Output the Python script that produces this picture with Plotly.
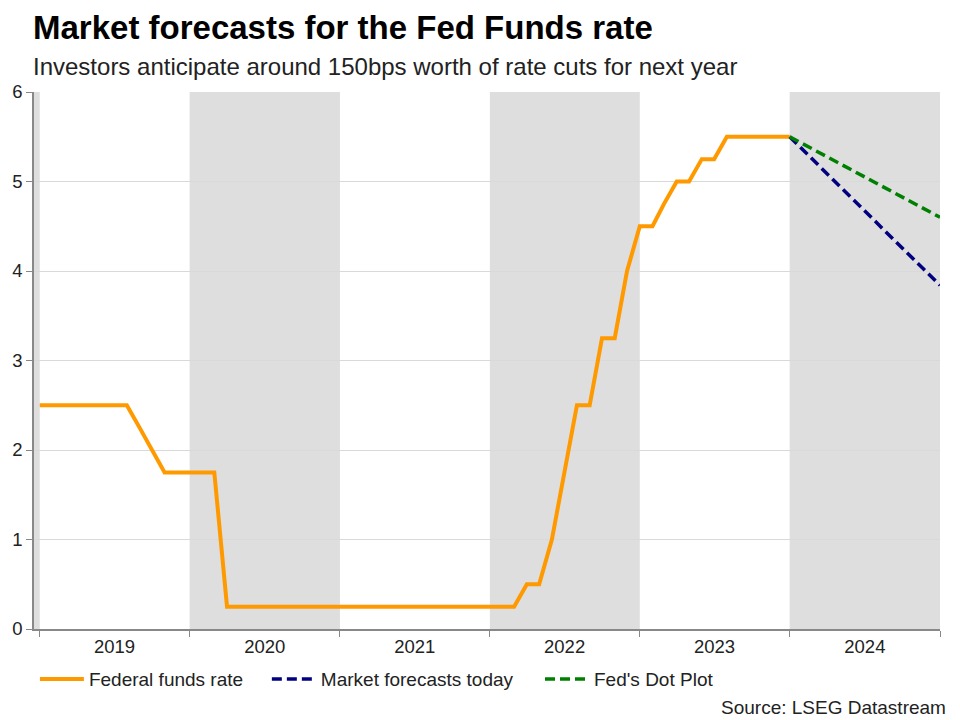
import plotly.graph_objects as go

# Monthly Fed funds rate (upper bound), first of month
fed_dates = [f"{y}-{m:02d}-01" for y in range(2019, 2024) for m in range(1, 13)] + ["2024-01-01"]
fed_values = [
    # 2019
    2.5, 2.5, 2.5, 2.5, 2.5, 2.5, 2.5, 2.5, 2.25, 2.0, 1.75, 1.75,
    # 2020
    1.75, 1.75, 1.75, 0.25, 0.25, 0.25, 0.25, 0.25, 0.25, 0.25, 0.25, 0.25,
    # 2021
    0.25, 0.25, 0.25, 0.25, 0.25, 0.25, 0.25, 0.25, 0.25, 0.25, 0.25, 0.25,
    # 2022
    0.25, 0.25, 0.25, 0.5, 0.5, 1.0, 1.75, 2.5, 2.5, 3.25, 3.25, 4.0,
    # 2023
    4.5, 4.5, 4.75, 5.0, 5.0, 5.25, 5.25, 5.5, 5.5, 5.5, 5.5, 5.5,
    # 2024
    5.5,
]

forecast_dates = ["2024-01-01", "2025-01-01"]
market_values = [5.5, 3.84]
dotplot_values = [5.5, 4.6]

year_labels = ["2019", "2020", "2021", "2022", "2023", "2024"]
label_dates = [f"{y}-07-02" for y in year_labels]
shaded_periods = [("2018-01-01", "2019-01-01"), ("2020-01-01", "2021-01-01"),
                  ("2022-01-01", "2023-01-01"), ("2024-01-01", "2025-01-01")]

fig = go.Figure()
fig.add_trace(go.Scatter(x=fed_dates, y=fed_values, mode="lines", name="Federal funds rate",
                         line=dict(color="#ff9900", width=4), legend="legend"))
fig.add_trace(go.Scatter(x=forecast_dates, y=market_values, mode="lines", name="Market forecasts today",
                         line=dict(color="#000080", width=3.5, dash="10px,5px"), legend="legend2"))
fig.add_trace(go.Scatter(x=forecast_dates, y=dotplot_values, mode="lines", name="Fed's Dot Plot",
                         line=dict(color="#008000", width=3.5, dash="10px,5px"), legend="legend3"))

for x0, x1 in shaded_periods:
    fig.add_shape(type="rect", xref="x", yref="paper", x0=x0, x1=x1, y0=0, y1=1,
                  fillcolor="#dedede", line=dict(width=0), layer="below")

legend_common = dict(orientation="h", xanchor="left", y=-0.058, yanchor="top", itemwidth=44,
                     font=dict(size=19, color="#222222"), bgcolor="rgba(0,0,0,0)")

fig.update_layout(
    width=960, height=720,
    margin=dict(l=26, r=28, t=84, b=99, autoexpand=False),
    paper_bgcolor="white", plot_bgcolor="white",
    font=dict(family="Liberation Sans, Arial, sans-serif", size=18, color="#222222"),
    showlegend=True,
    legend=dict(x=0.001, **legend_common),
    legend2=dict(x=0.257, **legend_common),
    legend3=dict(x=0.5585, **legend_common),
    annotations=[
        dict(text="<b>Market forecasts for the Fed Funds rate</b>", xref="paper", yref="paper",
             x=-0.003, y=1.121, xanchor="left", yanchor="middle", showarrow=False,
             font=dict(size=33, color="#000000")),
        dict(text="Investors anticipate around 150bps worth of rate cuts for next year", xref="paper",
             yref="paper", x=-0.003, y=1.047, xanchor="left", yanchor="middle", showarrow=False,
             font=dict(size=24, color="#222222")),
        dict(text="Source: LSEG Datastream", xref="paper", yref="paper", x=1.009, y=-0.1453,
             xanchor="right", yanchor="middle", showarrow=False, font=dict(size=19, color="#222222")),
    ],
)

fig.update_xaxes(
    type="date", range=["2018-12-18", "2025-01-01"], automargin=False,
    tickvals=label_dates, ticktext=year_labels, ticks="", tickfont=dict(size=18.5, color="#222222"),
    showgrid=False, showline=True, linecolor="#888888", linewidth=1.5, zeroline=False,
    minor=dict(tick0="2019-01-01", dtick="M12", ticks="outside", ticklen=6, tickcolor="#888888",
               showgrid=False),
)
fig.update_yaxes(
    range=[0, 6], dtick=1, ticks="outside", ticklen=6, tickcolor="#888888", automargin=False,
    tickfont=dict(size=18.5, color="#222222"),
    showgrid=True, gridcolor="#d9d9d9", gridwidth=1, showline=True, linecolor="#888888",
    linewidth=1.5, zeroline=False,
)

fig.write_html("out.html")
